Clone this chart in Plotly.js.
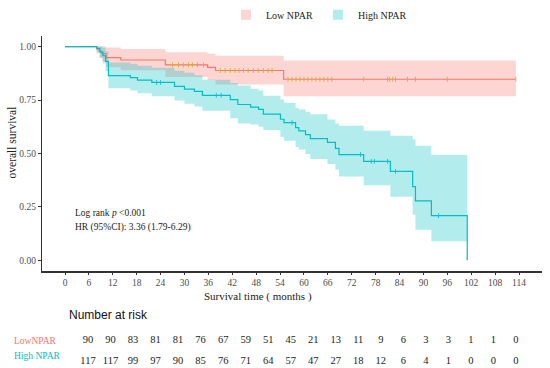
<!DOCTYPE html>
<html><head><meta charset="utf-8">
<script src="https://cdn.plot.ly/plotly-3.0.1.min.js"></script>
<style>html,body{margin:0;padding:0;background:#fff}#chart{width:550px;height:368px}</style>
</head><body><div id="chart"></div>
<script>
// ---- data ----
const groups = ['Low NPAR', 'High NPAR'];
const riskLabels = ['LowNPAR', 'High NPAR'];

const lowT  = [0, 7.9, 8.6, 9.3, 10.3, 14.0, 25.2, 35.8, 37.8, 54.9, 113.2];
const lowS  = [1, 0.989, 0.978, 0.967, 0.948, 0.937, 0.914, 0.903, 0.888, 0.847, 0.847];
const lowLo = [1, 0.967, 0.948, 0.931, 0.903, 0.889, 0.858, 0.843, 0.823, 0.768, 0.768];
const lowHi = [1, 1.0, 1.0, 1.0, 0.995, 0.988, 0.973, 0.966, 0.957, 0.935, 0.935];

const highT  = [0, 8.0, 8.8, 9.5, 10.2, 10.9, 16.4, 18.2, 21.8, 27.5, 30.0, 32.5, 34.5, 41.5, 43.4, 46.6, 48.6, 49.8, 54.1, 55.0, 57.9, 58.7, 60.4, 61.6, 65.9, 67.9, 68.8, 75.0, 81.7, 87.3, 88.0, 92.0, 101.0];
const highS  = [1, 0.991, 0.974, 0.957, 0.931, 0.864, 0.855, 0.843, 0.832, 0.814, 0.801, 0.790, 0.772, 0.752, 0.729, 0.717, 0.706, 0.684, 0.660, 0.644, 0.621, 0.606, 0.588, 0.569, 0.552, 0.524, 0.495, 0.463, 0.416, 0.345, 0.278, 0.209, 0];
const highLo = [1, 0.974, 0.946, 0.921, 0.886, 0.805, 0.795, 0.781, 0.768, 0.748, 0.733, 0.720, 0.700, 0.665, 0.640, 0.635, 0.625, 0.610, 0.578, 0.559, 0.530, 0.518, 0.497, 0.474, 0.451, 0.425, 0.392, 0.351, 0.297, 0.213, 0.143, 0.089, null];
const highHi = [1, 1.0, 1.0, 0.994, 0.978, 0.925, 0.920, 0.910, 0.901, 0.887, 0.877, 0.866, 0.845, 0.830, 0.818, 0.803, 0.795, 0.770, 0.752, 0.737, 0.713, 0.705, 0.695, 0.683, 0.659, 0.640, 0.629, 0.606, 0.583, 0.567, 0.536, 0.493, null];

const lowCensor  = [27, 28.5, 29.7, 31, 32, 33.3, 34.8, 39.0, 40.2, 41.5, 42.7, 43.7, 44.8, 46.0, 47.3, 48.5, 49.8, 51.0, 52.0, 56, 57, 58, 59, 60, 61, 62, 63, 64, 65, 66, 67, 75, 81, 81.5, 82.3, 83, 86, 88, 96, 113.2];
const highCensor = [23.0, 24.0, 38.0, 39.2, 57.0, 74.2, 76.9, 77.7, 81.0, 83.0, 93.8];

const riskT    = [0, 6, 12, 18, 24, 30, 36, 42, 48, 54, 60, 66, 72, 78, 84, 90, 96, 102, 108, 114];
const lowRisk  = [90, 90, 83, 81, 81, 76, 67, 59, 51, 45, 21, 13, 11, 9, 6, 3, 3, 1, 1, 0];
const highRisk = [117, 117, 99, 97, 90, 85, 76, 71, 64, 57, 47, 27, 18, 12, 6, 4, 1, 0, 0, 0];

// ---- styling ----
const RED = '#F8766D', TEAL = '#00BFC4';
const RED_FILL = 'rgba(248,118,109,0.3)', TEAL_FILL = 'rgba(0,191,196,0.3)';
const SERIF = '"Liberation Serif", "Times New Roman", serif';
const SANS = '"Liberation Sans", Arial, sans-serif';

function stepAt(T, S, t) { let v = S[0]; for (let i = 0; i < T.length; i++) { if (T[i] <= t && S[i] != null) v = S[i]; } return v; }
function carry(a) { const out = []; let p = a[0]; for (const v of a) { if (v != null) p = v; out.push(p); } return out; }

const traces = [];
// legend entries first
traces.push({x: [null], y: [null], mode: 'markers', name: groups[0], marker: {symbol: 'square', size: 10, color: RED_FILL, line: {width: 0}}});
traces.push({x: [null], y: [null], mode: 'markers', name: groups[1], marker: {symbol: 'square', size: 10, color: TEAL_FILL, line: {width: 0}}});

function band(T, lo, hi, fill) {
  traces.push({x: T, y: carry(lo), mode: 'lines', line: {width: 0, shape: 'hv'}, showlegend: false, hoverinfo: 'skip'});
  traces.push({x: T, y: carry(hi), mode: 'lines', line: {width: 0, shape: 'hv'}, fill: 'tonexty', fillcolor: fill, showlegend: false, hoverinfo: 'skip'});
}
band(lowT, lowLo, lowHi, RED_FILL);
band(highT, highLo, highHi, TEAL_FILL);

traces.push({x: lowT, y: lowS, mode: 'lines', line: {color: RED, width: 1.2, shape: 'hv'}, showlegend: false, name: groups[0]});
traces.push({x: highT, y: highS, mode: 'lines', line: {color: TEAL, width: 1.2, shape: 'hv'}, showlegend: false, name: groups[1]});

traces.push({x: lowCensor, y: lowCensor.map(t => stepAt(lowT, lowS, t)), mode: 'markers',
  marker: {symbol: 'line-ns-open', size: 3.5, line: {color: RED, width: 0.9}}, showlegend: false, hoverinfo: 'skip'});
traces.push({x: highCensor, y: highCensor.map(t => stepAt(highT, highS, t)), mode: 'markers',
  marker: {symbol: 'line-ns-open', size: 3.5, line: {color: TEAL, width: 0.9}}, showlegend: false, hoverinfo: 'skip'});

// risk table
traces.push({x: riskT, y: riskT.map(() => 1), xaxis: 'x2', yaxis: 'y2', mode: 'text', text: lowRisk.map(String),
  textfont: {family: SERIF, size: 10.5, color: '#222'}, showlegend: false, hoverinfo: 'skip'});
traces.push({x: riskT, y: riskT.map(() => 0), xaxis: 'x2', yaxis: 'y2', mode: 'text', text: highRisk.map(String),
  textfont: {family: SERIF, size: 10.5, color: '#222'}, showlegend: false, hoverinfo: 'skip'});

const W = 550, H = 368;
const axisCommon = {showgrid: false, zeroline: false, showline: true, linecolor: '#333', linewidth: 1.5,
  ticks: 'outside', ticklen: 3, tickwidth: 1, tickcolor: '#333', tickfont: {family: SERIF, size: 9.5, color: '#4d4d4d'}};

const layout = {
  width: W, height: H, margin: {l: 0, r: 0, t: 0, b: 0},
  paper_bgcolor: '#fff', plot_bgcolor: 'rgba(0,0,0,0)',
  font: {family: SERIF, size: 10, color: '#222'},
  showlegend: true,
  legend: {orientation: 'h', traceorder: 'normal', x: 226 / W, xanchor: 'left', y: 1.01, yanchor: 'top', font: {family: SERIF, size: 10, color: '#222'},
    bgcolor: 'rgba(0,0,0,0)', itemwidth: 30},
  xaxis: Object.assign({}, axisCommon, {domain: [42.3 / W, 541.7 / W], range: [-5.7, 119.7], tickmode: 'array', tickvals: riskT, ticktext: riskT.map(String), anchor: 'y', ticklen: 2.5}),
  yaxis: Object.assign({}, axisCommon, {domain: [(H - 270) / H, (H - 32.2) / H], range: [-0.05, 1.05], tickmode: 'array', tickvals: [0, 0.25, 0.5, 0.75, 1], ticktext: ['0.00', '0.25', '0.50', '0.75', '1.00'], anchor: 'x'}),
  xaxis2: {domain: [0, 1], range: [-88 / 3.754, (W - 88) / 3.754], visible: false, anchor: 'y2'},
  yaxis2: {domain: [0, 78 / H], range: [-7 / 21, 71 / 21], visible: false, anchor: 'x2'},
  annotations: [
    {text: 'Survival time ( months )', xref: 'paper', yref: 'paper', x: 258 / W, y: (H - 296) / H, xanchor: 'center', yanchor: 'middle', showarrow: false, font: {family: SERIF, size: 11, color: '#222'}},
    {text: 'overall survival', textangle: -90, xref: 'paper', yref: 'paper', x: 12 / W, y: (H - 140) / H, xanchor: 'center', yanchor: 'middle', showarrow: false, font: {family: SERIF, size: 11.5, color: '#222'}},
    {text: 'Log rank <i>p</i> &lt;0.001', xref: 'paper', yref: 'paper', x: 73 / W, y: (H - 211) / H, xanchor: 'left', yanchor: 'middle', showarrow: false, font: {family: SERIF, size: 9.5, color: '#222'}},
    {text: 'HR (95%CI): 3.36 (1.79-6.29)', xref: 'paper', yref: 'paper', x: 73 / W, y: (H - 226) / H, xanchor: 'left', yanchor: 'middle', showarrow: false, font: {family: SERIF, size: 9.5, color: '#222'}},
    {text: 'Number at risk', xref: 'paper', yref: 'paper', x: 67 / W, y: (H - 314) / H, xanchor: 'left', yanchor: 'middle', showarrow: false, font: {family: SANS, size: 12, color: '#111'}},
    {text: riskLabels[0], xref: 'paper', yref: 'paper', x: 12 / W, y: (H - 341) / H, xanchor: 'left', yanchor: 'middle', showarrow: false, font: {family: SERIF, size: 9.5, color: RED}},
    {text: riskLabels[1], xref: 'paper', yref: 'paper', x: 12 / W, y: (H - 356) / H, xanchor: 'left', yanchor: 'middle', showarrow: false, font: {family: SERIF, size: 9.5, color: TEAL}}
  ]
};

Plotly.newPlot('chart', traces, layout, {staticPlot: true, displayModeBar: false});
</script></body></html>
